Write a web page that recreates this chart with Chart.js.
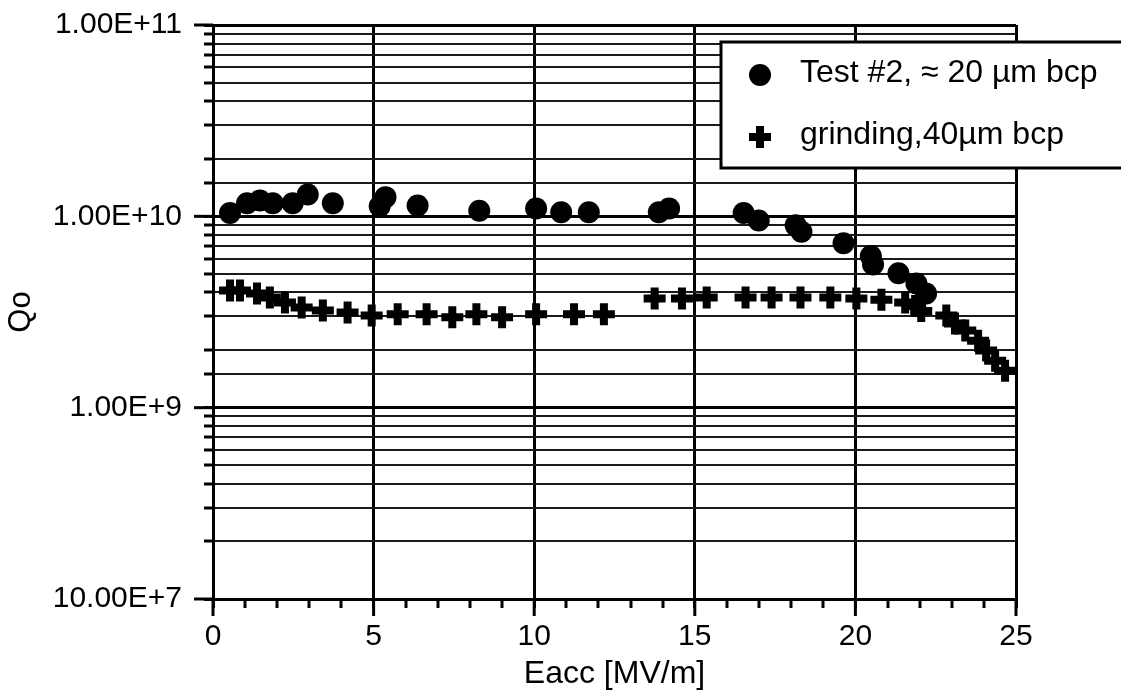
<!DOCTYPE html>
<html>
<head>
<meta charset="utf-8">
<script src="https://cdn.jsdelivr.net/npm/chart.js@4/dist/chart.umd.min.js"></script>
<style>
  html, body { margin: 0; padding: 0; background: #fff; }
  canvas { display: block; }
</style>
</head>
<body>
<canvas id="grafico" width="1121" height="693"></canvas>
<script>
// Test #2, ~20 um bcp
const test2Eacc = [0.53, 1.06, 1.46, 1.86, 2.48, 2.95, 3.73, 5.19, 5.37, 6.37, 8.29, 10.06, 10.84, 11.7,
  13.88, 14.2, 16.52, 16.99, 18.14, 18.32, 19.63, 20.48, 20.55, 21.34, 21.9, 22.2];
const test2Q = [1.04e10, 1.17e10, 1.21e10, 1.17e10, 1.17e10, 1.30e10, 1.17e10, 1.13e10, 1.26e10, 1.14e10, 1.07e10, 1.10e10, 1.05e10, 1.05e10,
  1.05e10, 1.10e10, 1.04e10, 9.5e9, 8.97e9, 8.3e9, 7.23e9, 6.2e9, 5.6e9, 5.04e9, 4.46e9, 3.95e9];

// grinding, 40 um bcp
const grindEacc = [0.53, 0.84, 1.37, 1.77, 2.24, 2.76, 3.42, 4.19, 4.94, 5.75, 6.65, 7.45, 8.2, 9.0, 10.06, 11.24, 12.17,
  13.75, 14.6, 15.37, 16.58, 17.39, 18.29, 19.22, 20.03, 20.81, 21.55, 21.86, 22.05, 22.83, 23.1, 23.42, 23.82, 24.07, 24.35, 24.66];
const grindQ = [4.1e9, 4.1e9, 3.95e9, 3.77e9, 3.55e9, 3.34e9, 3.22e9, 3.14e9, 3.03e9, 3.08e9, 3.08e9, 2.97e9, 3.08e9, 2.97e9, 3.08e9, 3.08e9, 3.08e9,
  3.72e9, 3.72e9, 3.77e9, 3.77e9, 3.77e9, 3.77e9, 3.77e9, 3.72e9, 3.66e9, 3.55e9, 3.4e9, 3.2e9, 3.03e9, 2.75e9, 2.53e9, 2.24e9, 1.99e9, 1.76e9, 1.56e9];

const nomiSerie = ["Test #2, \u2248 20 \u00b5m bcp", "grinding,40\u00b5m bcp"];
const yTickValori = [1e8, 1e9, 1e10, 1e11];
const yTickEtichette = ["10.00E+7", "1.00E+9", "1.00E+10", "1.00E+11"];
const xTickEtichette = [0, 5, 10, 15, 20, 25];

const font = "'Liberation Sans', Arial, sans-serif";
const punti = (xs, ys) => xs.map((x, i) => ({ x: x, y: ys[i] }));
const decade = (v) => yTickValori.findIndex((t) => Math.abs(Math.log10(v) - Math.log10(t)) < 1e-6);
const xMaggiore = (v) => xTickEtichette.indexOf(v) >= 0;

// longer ticks at the labelled values + boxed legend
const extra = {
  id: "extra",
  afterDraw(chart) {
    const { ctx, chartArea, scales } = chart;
    ctx.save();
    ctx.strokeStyle = "#000";
    ctx.lineWidth = 3;
    xTickEtichette.forEach((v) => {
      const px = scales.x.getPixelForValue(v);
      ctx.beginPath();
      ctx.moveTo(px, chartArea.bottom);
      ctx.lineTo(px, chartArea.bottom + 17);
      ctx.stroke();
    });
    yTickValori.forEach((v) => {
      const py = scales.y.getPixelForValue(v);
      ctx.beginPath();
      ctx.moveTo(chartArea.left - 19, py);
      ctx.lineTo(chartArea.left, py);
      ctx.stroke();
    });

    // legend
    const bx = 721, by = 42, bw = 430, bh = 126;
    ctx.fillStyle = "#fff";
    ctx.fillRect(bx, by, bw, bh);
    ctx.lineWidth = 3;
    ctx.strokeRect(bx, by, bw, bh);
    const righe = [75, 137];
    chart.data.datasets.forEach((ds, i) => {
      const mx = 760, my = righe[i];
      ctx.fillStyle = "#000";
      if (ds.pointStyle === "circle") {
        ctx.beginPath();
        ctx.arc(mx, my, ds.pointRadius, 0, Math.PI * 2);
        ctx.fill();
      } else {
        ctx.lineWidth = ds.borderWidth;
        ctx.beginPath();
        ctx.moveTo(mx - ds.pointRadius, my);
        ctx.lineTo(mx + ds.pointRadius, my);
        ctx.moveTo(mx, my - ds.pointRadius);
        ctx.lineTo(mx, my + ds.pointRadius);
        ctx.stroke();
      }
      ctx.font = "32px " + font;
      ctx.textBaseline = "middle";
      ctx.textAlign = "left";
      ctx.fillText(ds.label, 800, my - 2);
    });
    ctx.restore();
  },
};

const config = {
  type: "scatter",
  data: {
    datasets: [
      {
        label: nomiSerie[0],
        data: punti(test2Eacc, test2Q),
        pointStyle: "circle",
        pointRadius: 11,
        backgroundColor: "#000",
        borderColor: "#000",
        borderWidth: 0,
      },
      {
        label: nomiSerie[1],
        data: punti(grindEacc, grindQ),
        pointStyle: "cross",
        pointRadius: 11,
        backgroundColor: "#000",
        borderColor: "#000",
        borderWidth: 8,
      },
    ],
  },
  options: {
    responsive: false,
    animation: false,
    devicePixelRatio: 1,
    layout: { padding: { top: 25, right: 105, left: 0, bottom: 0 } },
    plugins: { legend: { display: false }, tooltip: { enabled: false } },
    scales: {
      x: {
        type: "linear",
        min: 0,
        max: 25,
        afterFit: (s) => {
          s.height = 94;
          s.paddingLeft = 0;
          s.paddingRight = 0;
          s.paddingTop = 0;
          s.paddingBottom = 0;
        },
        ticks: {
          stepSize: 1,
          autoSkip: false,
          maxRotation: 0,
          padding: 11,
          color: "#000",
          font: { family: font, size: 30 },
          callback: (v) => (xMaggiore(v) ? String(v) : ""),
        },
        grid: {
          color: "#000",
          lineWidth: (c) => (c.tick && xMaggiore(c.tick.value) ? 3 : 0),
          tickLength: 9,
          tickWidth: 3,
          tickColor: "#000",
        },
        border: { display: true, color: "#000", width: 3 },
        title: {
          display: true,
          text: "Eacc [MV/m]",
          color: "#000",
          font: { family: font, size: 32 },
          padding: { top: 0, bottom: 0 },
        },
      },
      y: {
        type: "logarithmic",
        min: 1e8,
        max: 1e11,
        afterFit: (s) => {
          s.width = 213;
          s.paddingLeft = 0;
          s.paddingRight = 0;
          s.paddingTop = 0;
          s.paddingBottom = 0;
        },
        ticks: {
          autoSkip: false,
          padding: 22,
          color: "#000",
          font: { family: font, size: 30 },
          callback: (v) => {
            const k = decade(v);
            return k >= 0 ? yTickEtichette[k] : "";
          },
        },
        grid: {
          color: (c) => (c.tick && decade(c.tick.value) >= 0 ? "#000" : "#1a1a1a"),
          lineWidth: (c) => (c.tick && decade(c.tick.value) >= 0 ? 3 : 2),
          tickLength: 9,
          tickWidth: 3,
          tickColor: "#000",
        },
        border: { display: true, color: "#000", width: 3 },
        title: {
          display: true,
          text: "Qo",
          color: "#000",
          font: { family: font, size: 31 },
          padding: { top: 3, bottom: 0 },
        },
      },
    },
  },
  plugins: [extra],
};

new Chart(document.getElementById("grafico").getContext("2d"), config);
</script>
</body>
</html>
